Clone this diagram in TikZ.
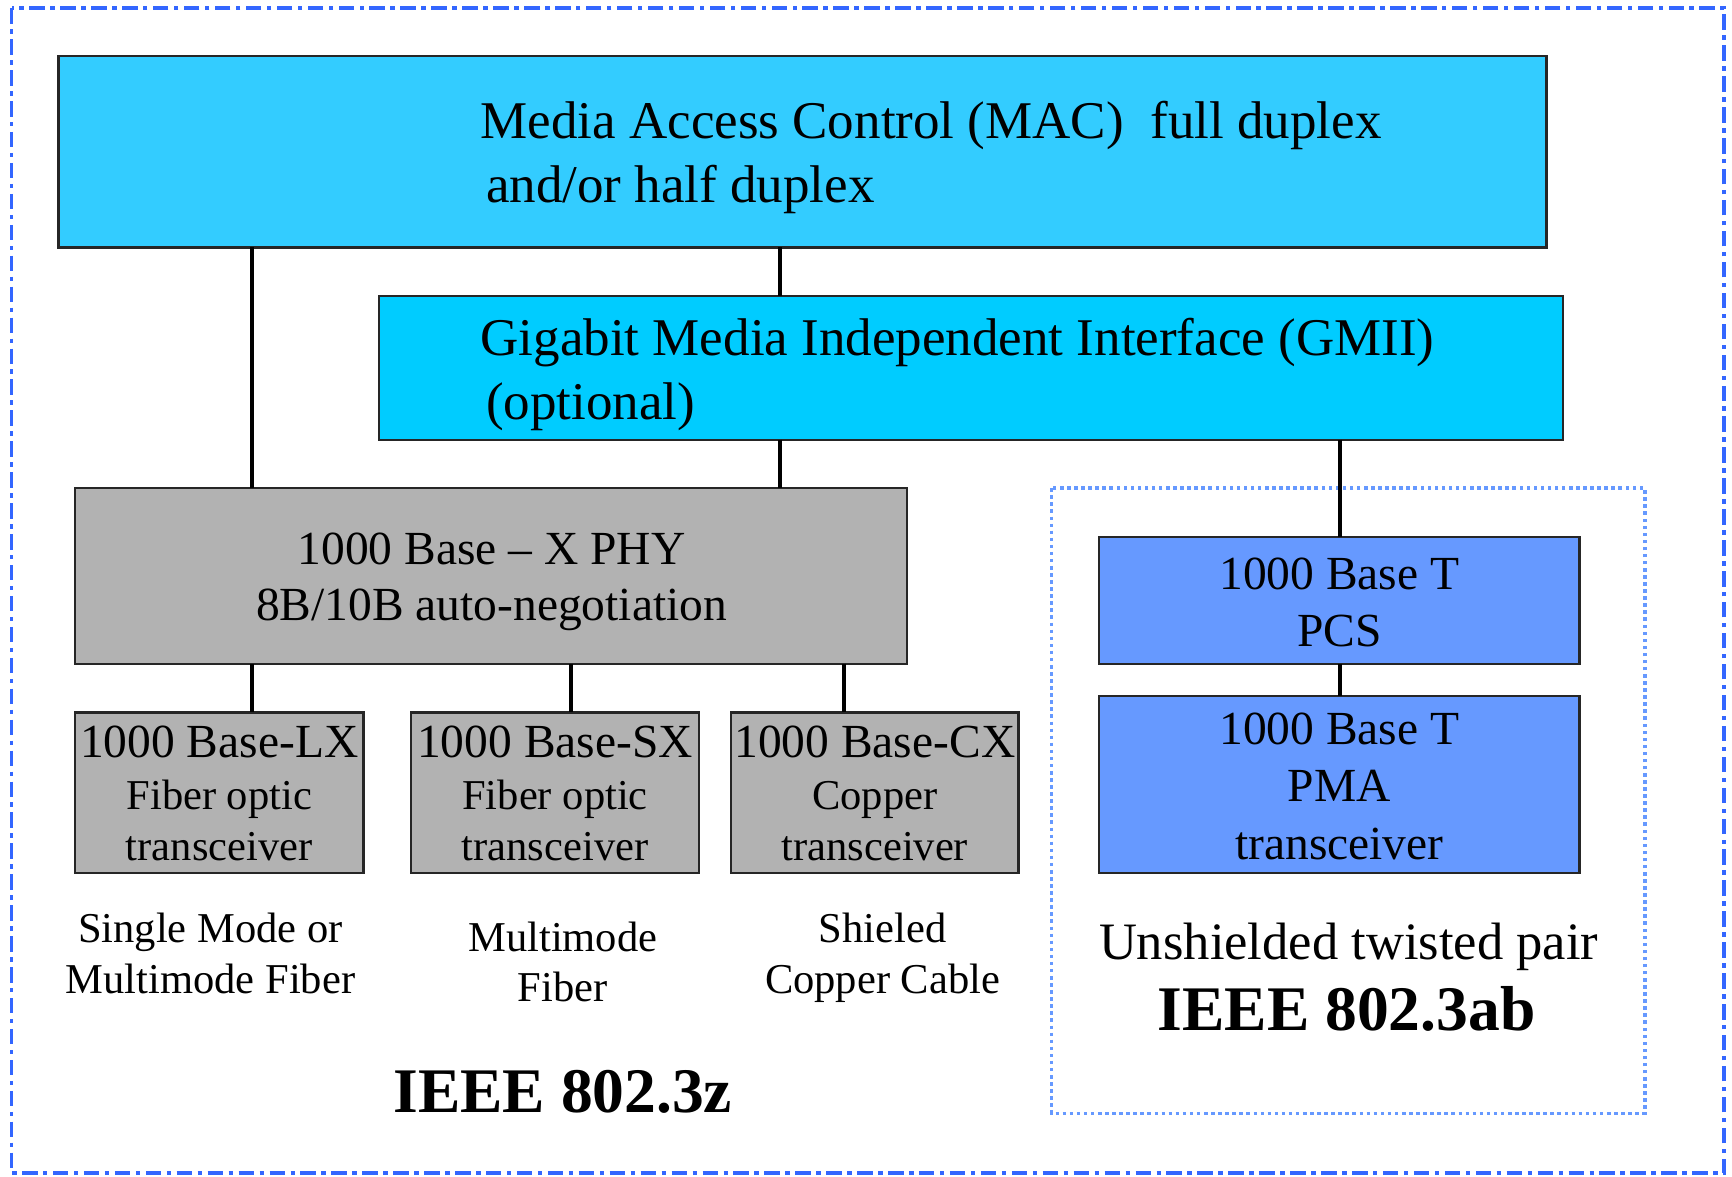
\documentclass[tikz,border=0pt]{standalone}
\usepackage{fontspec}
\setmainfont{Liberation Serif}
\definecolor{macc}{HTML}{33CCFF}
\definecolor{gmiic}{HTML}{00CCFF}
\definecolor{grayc}{HTML}{B2B2B2}
\definecolor{bluec}{HTML}{6699FF}
\definecolor{framec}{HTML}{3366FF}
\definecolor{dotc}{HTML}{6699FF}
\begin{document}
\begin{tikzpicture}[x=0.5pt,y=-0.5pt,
  box/.style={draw=black!85, line width=1pt, inner sep=0pt, outer sep=0pt, anchor=north west},
  conn/.style={draw=black, line width=1.6pt},
  tl/.style={inner sep=0pt, outer sep=0pt, anchor=base west},
  tc/.style={inner sep=0pt, outer sep=0pt, anchor=base},
  fbig/.style={font=\fontsize{24pt}{29pt}\selectfont},
  fmid/.style={font=\fontsize{21.5pt}{26pt}\selectfont},
  fsmall/.style={font=\fontsize{19.25pt}{23pt}\selectfont},
  futp/.style={font=\fontsize{23.8pt}{28pt}\selectfont},
  fieee/.style={font=\fontsize{28.75pt}{34pt}\selectfont\bfseries}]
\useasboundingbox (0,0) rectangle (1568,1065);
% outer frame and dotted group
\draw[framec, line width=1.7pt, dash pattern=on 7pt off 2.5pt on 2pt off 2.5pt] (10.5,7.5) rectangle (1561,1062);
\draw[dotc, line width=1.7pt, dash pattern=on 1.6pt off 1.6pt] (952,442) rectangle (1489,1008);
% boxes
\node[box, fill=macc,  minimum width=673.5pt, minimum height=86.5pt] (mac)  at (53,51)  {};
\node[box, fill=gmiic, minimum width=536pt,   minimum height=65pt]   (gmii) at (343,268) {};
\node[box, fill=grayc, minimum width=376.5pt, minimum height=79.5pt] (phy)  at (68,442)  {};
\node[box, fill=grayc, minimum width=130.5pt, minimum height=72.5pt] (lx)   at (68,645)  {};
\node[box, fill=grayc, minimum width=130.5pt, minimum height=72.5pt] (sx)   at (372,645) {};
\node[box, fill=grayc, minimum width=130pt,   minimum height=72.5pt] (cx)   at (662,645) {};
\node[box, fill=bluec, minimum width=217.5pt, minimum height=57.5pt] (pcs)  at (995,486) {};
\node[box, fill=bluec, minimum width=217.5pt, minimum height=80pt]   (pma)  at (995,630) {};
% connector columns
\coordinate (xa) at (228,0);
\coordinate (xb) at (706,0);
\coordinate (xc) at (1213,0);
\coordinate (xd) at (517,0);
\coordinate (xe) at (764,0);
\draw[conn] (xa |- mac.south) -- (xa |- phy.north);
\draw[conn] (xb |- mac.south) -- (xb |- gmii.north);
\draw[conn] (xb |- gmii.south) -- (xb |- phy.north);
\draw[conn] (xc |- gmii.south) -- (xc |- pcs.north);
\draw[conn] (xa |- phy.south) -- (xa |- lx.north);
\draw[conn] (xd |- phy.south) -- (xd |- sx.north);
\draw[conn] (xe |- phy.south) -- (xe |- cx.north);
\draw[conn] (xc |- pcs.south) -- (xc |- pma.north);
% texts
\node[tl, fbig] (mac1) at (435,125) {Media Access Control (MAC)~ full duplex};
\node[tl, fbig] (mac2) at (440,183) {and/or half duplex};
\node[tl, fbig] (gm1) at (435,322) {Gigabit Media Independent Interface (GMII)};
\node[tl, fbig] (gm2) at (440,380) {(optional)};
\node[tc, fmid] (phy1) at (445,511) {1000 Base – X PHY};
\node[tc, fmid] (phy2) at (445,562) {8B/10B auto-negotiation};
\node[tc, fmid]   (lx1) at (198.5,686) {1000 Base-LX};
\node[tc, fsmall] (lx2) at (198.5,733) {Fiber optic};
\node[tc, fsmall] (lx3) at (198.5,779) {transceiver};
\node[tc, fmid]   (sx1) at (502.5,686) {1000 Base-SX};
\node[tc, fsmall] (sx2) at (502.5,733) {Fiber optic};
\node[tc, fsmall] (sx3) at (502.5,779) {transceiver};
\node[tc, fmid]   (cx1) at (792,686) {1000 Base-CX};
\node[tc, fsmall] (cx2) at (792,733) {Copper};
\node[tc, fsmall] (cx3) at (792,779) {transceiver};
\node[tc, fmid] (pcs1) at (1212.5,534) {1000 Base T};
\node[tc, fmid] (pcs2) at (1212.5,585) {PCS};
\node[tc, fmid] (pma1) at (1212.5,674) {1000 Base T};
\node[tc, fmid] (pma2) at (1212.5,726) {PMA};
\node[tc, fmid] (pma3) at (1212.5,778) {transceiver};
\node[tc, fsmall] (lab1) at (190.5,853) {Single Mode or};
\node[tc, fsmall] (lab2) at (190.5,899) {Multimode Fiber};
\node[tc, fsmall] (lab3) at (509.5,861) {Multimode};
\node[tc, fsmall] (lab4) at (509.5,907) {Fiber};
\node[tc, fsmall] (lab5) at (799,853) {Shieled};
\node[tc, fsmall] (lab6) at (799,899) {Copper Cable};
\node[tc, futp]  (utp)  at (1221,869) {Unshielded twisted pair};
\node[tc, fieee] (ieab) at (1219,933) {IEEE 802.3ab};
\node[tc, fieee] (iez)  at (509.5,1007) {IEEE 802.3z};
\end{tikzpicture}
\end{document}
